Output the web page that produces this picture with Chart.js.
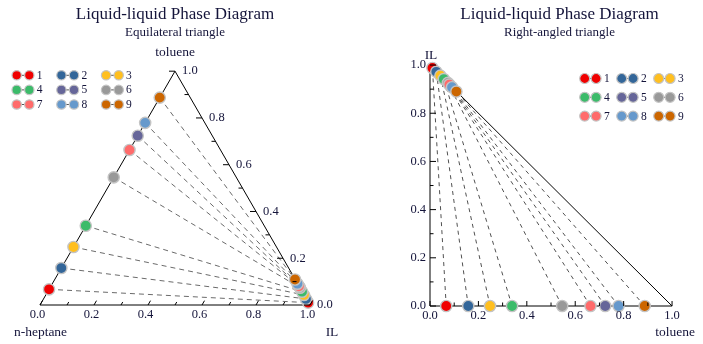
<!DOCTYPE html>
<html>
<head>
<meta charset="utf-8">
<script src="https://cdn.jsdelivr.net/npm/chart.js@4.4.1/dist/chart.umd.min.js"></script>
<style>
    html, body { margin: 0; padding: 0; background: #fff; overflow: hidden; }
    .box { position: absolute; top: 0; height: 344px; }
</style>
</head>
<body>
<div class="box" style="left:0;width:350px"><canvas id="ternaryChart"></canvas></div>
<div class="box" style="left:350px;width:353px"><canvas id="rightChart"></canvas></div>
<script>
// series
var seriesNames = ['1', '2', '3', '4', '5', '6', '7', '8', '9'];
var seriesColors = ['#f00000', '#336699', '#ffbf1f', '#3cbb6a', '#666699', '#999999', '#ff6b6b', '#6699cc', '#cc6600'];

// heptane-rich phase (mass fractions)
var tolueneRaff = [0.067, 0.158, 0.248, 0.339, 0.724, 0.546, 0.663, 0.779, 0.887];
var ilRaff = [0, 0, 0, 0, 0, 0, 0, 0, 0];

// IL-rich phase
var tolueneExtr = [0.010, 0.026, 0.043, 0.057, 0.084, 0.074, 0.080, 0.091, 0.109];
var ilExtr = [0.988, 0.972, 0.956, 0.942, 0.914, 0.926, 0.919, 0.908, 0.890];

// axis ticks
var tickValues = [0, 0.1, 0.2, 0.3, 0.4, 0.5, 0.6, 0.7, 0.8, 0.9, 1.0];
var tickLabels = ['0.0', '', '0.2', '', '0.4', '', '0.6', '', '0.8', '', '1.0'];

var textColor = '#14143a';
var serif = "'Liberation Serif', 'DejaVu Serif', serif";
Chart.defaults.font.family = serif;
Chart.defaults.color = textColor;

var h3 = Math.sqrt(3) / 2;
// ternary (IL, toluene) -> cartesian of the equilateral triangle
var ternPoint = function (il, tol) { return {x: il + tol / 2, y: tol * h3}; };
// right-angled: x = toluene, y = IL
var rightPoint = function (il, tol) { return {x: tol, y: il}; };

var buildDatasets = function (toPoint, dash, dashColor) {
    var sets = [];
    // triangle frame
    sets.push({
        data: [toPoint(0, 0), toPoint(1, 0), toPoint(0, 1), toPoint(0, 0)],
        showLine: true, borderColor: '#000', borderWidth: 1, pointRadius: 0, order: 30, clip: false
    });
    for (var i = 0; i < seriesNames.length; i++) {
        var a = toPoint(ilRaff[i], tolueneRaff[i]);
        var b = toPoint(ilExtr[i], tolueneExtr[i]);
        // tie line
        sets.push({
            data: [a, b], showLine: true, borderColor: dashColor, borderWidth: 1,
            borderDash: dash, pointRadius: 0, order: 20, clip: false
        });
        sets.push({
            label: seriesNames[i], data: [a, b], showLine: false,
            pointRadius: 5.6, backgroundColor: seriesColors[i], pointBackgroundColor: seriesColors[i],
            pointBorderColor: '#c4c4c4', pointBorderWidth: 1.4,
            order: seriesNames.length - i, clip: false
        });
    }
    return sets;
};

var drawLegend = function (ctx, L) {
    for (var i = 0; i < seriesNames.length; i++) {
        var cx = L.x + (i % 3) * L.colGap;
        var cy = L.y + Math.floor(i / 3) * L.rowGap;
        ctx.setLineDash([]);
        ctx.strokeStyle = '#555';
        ctx.lineWidth = 1;
        ctx.beginPath();
        ctx.moveTo(cx, cy);
        ctx.lineTo(cx + L.dotGap, cy);
        ctx.stroke();
        [cx, cx + L.dotGap].forEach(function (x) {
            ctx.beginPath();
            ctx.arc(x, cy, L.r, 0, 2 * Math.PI);
            ctx.fillStyle = seriesColors[i];
            ctx.fill();
            ctx.strokeStyle = '#c4c4c4';
            ctx.lineWidth = 1.2;
            ctx.stroke();
        });
        ctx.fillStyle = textColor;
        ctx.font = '11.5px ' + serif;
        ctx.textAlign = 'left';
        ctx.textBaseline = 'middle';
        ctx.fillText(seriesNames[i], cx + L.dotGap + L.textGap, cy + 0.5);
    }
};

var tick = function (ctx, x, y, dx, dy) {
    ctx.beginPath();
    ctx.moveTo(x, y);
    ctx.lineTo(x + dx, y + dy);
    ctx.stroke();
};

var titleOpts = function (sub) {
    return {
        title: {display: true, text: 'Liquid-liquid Phase Diagram', color: textColor,
            font: {size: 17, weight: 'normal'}, padding: {top: 4, bottom: 0}},
        subtitle: {display: true, text: sub, color: textColor,
            font: {size: 13}, padding: {top: 0, bottom: 0}},
        legend: {display: false},
        tooltip: {enabled: false}
    };
};

// equilateral triangle
var ternaryAxes = {
    id: 'ternaryAxes',
    afterDraw: function (chart) {
        var ctx = chart.ctx, xs = chart.scales.x, ys = chart.scales.y;
        var px = function (p) { return {x: xs.getPixelForValue(p.x), y: ys.getPixelForValue(p.y)}; };
        ctx.save();
        ctx.strokeStyle = '#000';
        ctx.lineWidth = 1;
        ctx.fillStyle = textColor;
        ctx.font = '12.5px ' + serif;
        ctx.textBaseline = 'middle';
        tickValues.forEach(function (v, k) {
            var major = tickLabels[k] !== '';
            // IL axis (bottom)
            var p = px(ternPoint(v, 0)), q = px(ternPoint(v, 0.1));
            var d = Math.hypot(q.x - p.x, q.y - p.y), len = major ? 5 : 3.5;
            tick(ctx, p.x, p.y, (q.x - p.x) / d * len, (q.y - p.y) / d * len);
            ctx.textAlign = 'center';
            if (major) ctx.fillText(tickLabels[k], p.x - 2.5, p.y + 10);
            // toluene axis (right)
            var r = px(ternPoint(1 - v, v));
            tick(ctx, r.x, r.y, major ? -6 : -4, 0);
            ctx.textAlign = 'left';
            if (major) ctx.fillText(tickLabels[k], r.x + 7, r.y);
        });
        ctx.font = '13.5px ' + serif;
        ctx.textAlign = 'center';
        var top = px(ternPoint(0, 1)), left = px(ternPoint(0, 0)), right = px(ternPoint(1, 0));
        ctx.fillText('toluene', top.x, top.y - 19);
        ctx.fillText('n-heptane', left.x + 0.5, left.y + 27);
        ctx.fillText('IL', right.x + 22, right.y + 27);
        drawLegend(ctx, {x: 16.7, y: 75.3, colGap: 44.7, rowGap: 14.6, dotGap: 12.6, r: 4.7, textGap: 7.4});
        ctx.restore();
    }
};

var ctx1 = document.getElementById('ternaryChart').getContext('2d');
new Chart(ctx1, {
    type: 'scatter',
    data: {datasets: buildDatasets(ternPoint, [5, 4], '#6a6a6a')},
    options: {
        responsive: true, maintainAspectRatio: false, animation: false, events: [],
        layout: {padding: {left: 40, right: 40, top: 0, bottom: 39}},
        scales: {
            x: {type: 'linear', display: false, min: 0, max: 1},
            y: {type: 'linear', display: false, min: 0, max: 0.9815}
        },
        plugins: titleOpts('Equilateral triangle')
    },
    plugins: [ternaryAxes]
});

// right-angled triangle
var rightAxes = {
    id: 'rightAxes',
    afterDraw: function (chart) {
        var ctx = chart.ctx, xs = chart.scales.x, ys = chart.scales.y;
        var x0 = xs.getPixelForValue(0), y0 = ys.getPixelForValue(0);
        ctx.save();
        ctx.strokeStyle = '#000';
        ctx.lineWidth = 1;
        ctx.fillStyle = textColor;
        ctx.font = '12.5px ' + serif;
        ctx.textBaseline = 'middle';
        tickValues.forEach(function (v, k) {
            var major = tickLabels[k] !== '';
            var x = xs.getPixelForValue(v), y = ys.getPixelForValue(v);
            tick(ctx, x, y0, 0, major ? -5 : -3.5);
            tick(ctx, x0, y, major ? 6 : 3.5, 0);
            if (major) {
                ctx.textAlign = 'center';
                ctx.fillText(tickLabels[k], x, y0 + 9.5);
                ctx.textAlign = 'right';
                ctx.fillText(tickLabels[k], x0 - 4, y);
            }
        });
        ctx.font = '13.5px ' + serif;
        ctx.textAlign = 'center';
        ctx.fillText('IL', x0 + 1, ys.getPixelForValue(1) - 10);
        ctx.fillText('toluene', xs.getPixelForValue(1) + 3, y0 + 26);
        drawLegend(ctx, {x: 234.7, y: 78.5, colGap: 37, rowGap: 18.8, dotGap: 11.4, r: 5, textGap: 8});
        ctx.restore();
    }
};

var ctx2 = document.getElementById('rightChart').getContext('2d');
new Chart(ctx2, {
    type: 'scatter',
    data: {datasets: buildDatasets(rightPoint, [4, 4], '#505050')},
    options: {
        responsive: true, maintainAspectRatio: false, animation: false, events: [],
        layout: {padding: {left: 80, right: 14, top: 0, bottom: 38}},
        scales: {
            x: {type: 'linear', display: false, min: 0, max: 1.07},
            y: {type: 'linear', display: false, min: 0, max: 1.104}
        },
        plugins: titleOpts('Right-angled triangle')
    },
    plugins: [rightAxes]
});
</script>
</body>
</html>
